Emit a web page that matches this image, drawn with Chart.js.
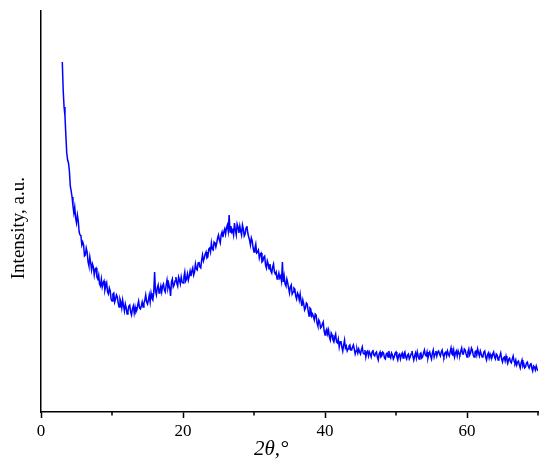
<!DOCTYPE html>
<html>
<head>
<meta charset="utf-8">
<script src="https://cdn.jsdelivr.net/npm/chart.js@4.4.1/dist/chart.umd.min.js"></script>
<style>
html,body{margin:0;padding:0;background:#fff;}
#wrap{width:550px;height:467px;position:relative;}
</style>
</head>
<body>
<div id="wrap"><canvas id="c" width="550" height="467"></canvas></div>
<script>
// 2θ sampling grid (degrees)
const twoThetaStart = 3;
const twoThetaStep = 0.125;
// Intensity (a.u.), one value per grid step (3° … 70°), 8 per degree
const intensity = [
350,322,305,296,277,259,252,249,
241,226,221,215,206,199,205,194,
189,197,191,180,177,176,167,170,
167,156,157,164,160,150,146,155,
149,142,148,145,137,143,144,135,
133,137,128,126,133,125,129,131,
122,126,129,120,118,124,121,113,
111,118,119,110,113,117,115,109,
105,113,110,104,112,106,101,108,
104,98,101,106,107,100,97,103,
106,99,105,100,102,107,111,104,
103,106,110,105,109,112,117,110,
108,112,117,110,119,114,112,119,
140,121,117,124,127,119,122,126,
120,126,128,122,120,127,132,124,
128,124,116,130,133,125,127,131,
135,129,126,135,132,128,135,130,
129,135,140,131,133,138,132,136,
141,136,141,144,137,140,148,143,
142,149,150,145,144,152,157,151,
154,158,160,154,155,163,164,160,
169,163,162,170,169,165,169,174,
177,172,169,177,180,175,180,183,
178,184,187,181,197,180,186,180,
182,177,189,182,177,188,185,179,
186,181,177,187,183,176,178,184,
186,179,175,172,167,174,171,164,
160,164,168,159,160,162,154,158,
159,150,151,155,156,147,144,151,
148,143,148,141,139,145,148,140,
138,140,133,135,139,134,136,131,
150,130,136,128,126,133,129,124,
119,125,127,118,120,124,123,116,
113,119,117,112,118,111,106,112,
108,102,104,109,108,101,96,104,
103,96,98,95,92,98,97,89,
86,92,90,84,85,88,90,81,
77,81,83,78,82,75,72,79,
77,72,70,75,78,70,69,73,
65,70,71,65,61,67,72,64,
66,61,63,66,67,62,62,65,
67,63,58,61,63,59,63,60,
58,62,65,59,58,62,55,60,
61,56,60,58,55,60,62,57,
56,59,60,55,52,58,60,55,
56,60,59,54,53,58,59,55,
61,56,54,59,57,53,55,59,
60,55,52,57,58,53,57,59,
54,58,60,55,53,57,58,53,
55,58,61,56,52,56,59,54,
60,56,53,58,59,54,55,59,
62,57,56,60,54,58,60,56,
53,59,62,55,58,61,56,60,
61,58,56,60,62,57,55,59,
60,56,61,58,56,60,64,58,
57,62,55,59,61,56,61,58,
57,61,64,58,58,63,62,58,
55,60,63,57,59,64,62,57,
55,60,61,57,63,59,56,61,
58,55,56,60,61,55,52,57,
59,54,58,55,54,58,60,55,
53,58,57,52,54,56,59,53,
50,54,55,51,56,52,49,53,
54,50,49,53,56,51,49,52,
47,50,51,47,44,49,52,46,
48,44,45,49,50,46,44,47,
49,44,41,46,45,42,46,43,
41
];
const xMajorTicks = [0, 20, 40, 60];
const xMinorTicks = [10, 30, 50, 70];
const xTitle = '2\u03B8,\u00B0';
const yTitle = 'Intensity, a.u.';

const points = intensity.map((v, i) => ({x: twoThetaStart + i * twoThetaStep, y: v}));

const minorTickPlugin = {
  id: 'minorTicks',
  afterDraw(chart) {
    const xs = chart.scales.x;
    const ctx = chart.ctx;
    const y0 = chart.chartArea.bottom;
    ctx.save();
    ctx.strokeStyle = '#000';
    ctx.lineWidth = 1.5;
    xMinorTicks.forEach(v => {
      const px = xs.getPixelForValue(v);
      ctx.beginPath();
      ctx.moveTo(px, y0);
      ctx.lineTo(px, y0 + 3.5);
      ctx.stroke();
    });
    ctx.restore();
  }
};

new Chart(document.getElementById('c'), {
  type: 'line',
  data: {
    datasets: [{
      data: points,
      borderColor: '#0000FF',
      borderWidth: 1.5,
      pointRadius: 0,
      tension: 0,
      fill: false
    }]
  },
  options: {
    responsive: false,
    animation: false,
    devicePixelRatio: 1,
    layout: {padding: {top: 11, right: 12, bottom: 0, left: 0}},
    plugins: {legend: {display: false}, tooltip: {enabled: false}},
    scales: {
      x: {
        type: 'linear',
        min: 0, max: 70,
        afterBuildTicks(scale) { scale.ticks = xMajorTicks.map(v => ({value: v})); },
        afterFit(scale) { scale.height = 55; },
        grid: {display: true, drawOnChartArea: false, drawTicks: true, tickLength: 6, tickWidth: 1.5, tickColor: '#000'},
        border: {display: true, color: '#000', width: 1.5},
        ticks: {color: '#000', padding: 3, maxRotation: 0, font: {family: '"Liberation Serif", serif', size: 17}},
        title: {display: true, text: xTitle + '\u0020\u0020\u0020\u0020\u0020\u0020\u0020', color: '#000',
          font: {family: '"Liberation Serif", serif', size: 21, style: 'italic'}, padding: {top: 0, bottom: 5}}
      },
      y: {
        type: 'linear',
        min: 0, max: 401,
        afterFit(scale) { scale.width = 41; },
        grid: {display: false},
        border: {display: true, color: '#000', width: 1.5},
        ticks: {display: false},
        title: {display: true, text: yTitle + '\u0020\u0020\u0020\u0020\u0020\u0020\u0020', color: '#000',
          font: {family: '"Liberation Serif", serif', size: 19}, padding: {top: 8, bottom: 0}}
      }
    }
  },
  plugins: [minorTickPlugin]
});
</script>
</body>
</html>
